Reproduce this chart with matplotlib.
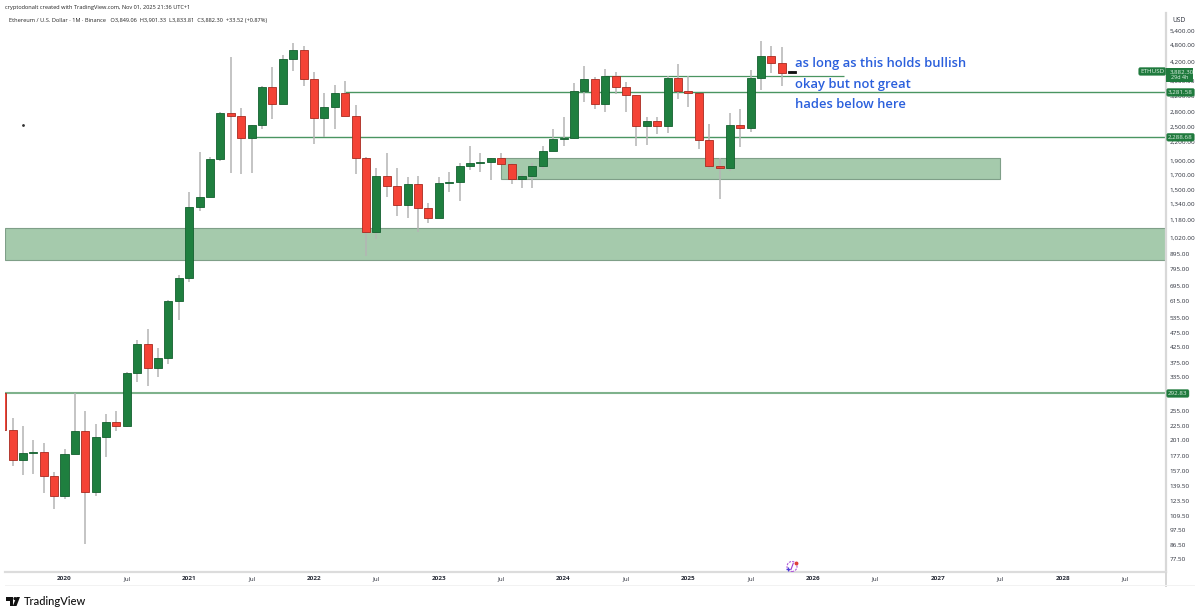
import matplotlib
matplotlib.use("Agg")
import matplotlib.pyplot as plt
from matplotlib.patches import Ellipse, Polygon, Rectangle
from matplotlib.transforms import blended_transform_factory
import numpy as np
import pandas as pd

W, H = 1200, 616

opens = [293,219,172,181,183,151,129,180,217,133,206,232,225,345,434,360,388,617,
         737,1313,1422,1924,2776,2710,2272,2527,3437,3000,4290,4611,
         3664,2678,2920,3270,2722,1935,1071,1680,1551,1331,1573,1296,
         1196,1584,1604,1819,1868,1874,1933,1851,1644,1671,1819,2047,
         2262,2283,3327,3643,3000,3745,3428,3222,2513,2600,2507,3680,
         3327,3270,2235,1815,1791,2527,2470,3680,4400,4150,3849.06]
highs = [293,241,226,202,197,156,187,293,254,229,249,254,349,450,490,423,621,759,
         1481,2040,1960,2805,4350,2889,2527,3455,4016,4430,4866,4762,
         3870,3270,3483,3596,2967,1960,1785,2023,1785,1662,1680,1354,
         1670,1735,1859,2136,2021,1937,2015,1868,1704,1859,2136,2441,
         2703,3542,4070,3725,3960,3870,3560,3222,2703,2703,3755,4110,
         3755,3270,2540,1945,2790,2865,3928,4945,4762,4735,3901.33]
lows = [219,164,152,153,132,116,126,180,87.5,129,176,216,224,320,310,334,371,529,
        718,1270,1422,1897,1725,1703,1718,2440,2652,2990,3900,3463,
        2168,2289,2447,2722,1703,885,1012,1422,1220,1196,1073,1154,
        1196,1470,1370,1762,1737,1626,1851,1575,1528,1519,1780,2047,
        2136,2253,3042,2865,2810,3240,2810,2136,2153,2351,2370,3107,
        2920,2082,1772,1400,1752,2125,2380,3346,3830,3455,3833.81]
closes = [219,172,181,183,151,129,180,217,133,206,232,225,345,434,360,388,617,737,
          1313,1422,1924,2776,2710,2272,2527,3437,3000,4290,4611,3664,
          2678,2920,3270,2722,1935,1071,1680,1551,1331,1573,1296,1196,
          1584,1604,1819,1868,1874,1933,1851,1644,1671,1819,2047,2262,
          2283,3327,3643,3000,3745,3428,3222,2513,2600,2507,3680,3327,
          3270,2235,1815,1791,2527,2470,3680,4400,4150,3849.06,3882.30]

price_ticks = [5400,4800,4200,3600,3200,2800,2500,2200,1900,1700,1500,1340,1180,1020,
               895,795,695,615,535,475,425,375,335,255,225,201,177,157,139.5,123.5,
               109.5,97.5,86.5,77.5]
time_labels = ["2020","Jul","2021","Jul","2022","Jul","2023","Jul","2024","Jul","2025",
               "Jul","2026","Jul","2027","Jul","2028","Jul"]

level_upper = 3744
level_mid = 3281.58
level_low = 2288.68
level_base = 292.83
zone_big = (853, 1102)
zone_small = (1644, 1934)

notes = ["as long as this holds bullish", "okay but not great", "hades below here"]
note_prices = [4122, 3483, 2967]

GREEN, RED = "#1f7f3f", "#f44336"
GREEN_E, RED_E = "#14602f", "#a82a20"
WICK = "#b4b4b4"
LINE = "#4a9561"
ZONE = "#a5caac"
ZONE_E = "#7f9f88"
TAG = "#1f7a3d"
TXT = "#2a2e39"
FONT = "Open Sans"
plt.rcParams["font.family"] = FONT

dates = pd.date_range("2019-07-01", periods=len(opens), freq="MS")
months = np.array([(d.year - 2020) * 12 + d.month - 1 for d in dates], dtype=float)
opens, highs, lows, closes = map(np.array, (opens, highs, lows, closes))

fig = plt.figure(figsize=(W / 100, H / 100), dpi=100, facecolor="white")
L, R, T, B = 5, 1166, 13, 572
ax = fig.add_axes([L / W, 1 - B / H, (R - L) / W, (B - T) / H])
ax.set_yscale("log")
ax.set_ylim(69.86, 6206)
ax.set_xlim((L - 64.5) / 10.397, (R - 64.5) / 10.397)
ax.minorticks_off()
ax.tick_params(which="both", length=0)

for s in ("top", "left"):
    ax.spines[s].set_visible(False)
ax.spines["bottom"].set_color("#dcdcdc")
ax.spines["bottom"].set_linewidth(1.6)
ax.spines["right"].set_color("#d8d8d8")
ax.spines["right"].set_linewidth(1.6)

# zones
ax.axhspan(zone_big[0], zone_big[1], facecolor=ZONE, edgecolor=ZONE_E, lw=0.8, zorder=1)
ax.add_patch(Rectangle((42, zone_small[0]), 48, zone_small[1] - zone_small[0],
                       facecolor=ZONE, edgecolor=ZONE_E, lw=0.8, zorder=1))

# levels
ax.hlines(level_base, ax.get_xlim()[0], ax.get_xlim()[1], color="#7fb28c", lw=1.5, zorder=1.5)
ax.hlines(level_low, 18, ax.get_xlim()[1], color=LINE, lw=1.0, zorder=1.5)
ax.hlines(level_mid, 27, ax.get_xlim()[1], color=LINE, lw=1.0, zorder=1.5)
ax.hlines(level_upper, 52, 75, color=LINE, lw=0.9, zorder=1.5)

# candles
up = closes >= opens
ax.vlines(months, lows, highs, color=WICK, lw=1.1, zorder=2)
ax.vlines(months[0], lows[0], highs[0], color=RED, lw=1.1, zorder=2)
bottoms = np.minimum(opens, closes)
heights = np.abs(closes - opens)
ax.bar(months[:-1], heights[:-1], bottom=bottoms[:-1], width=0.77,
       color=[GREEN if u else RED for u in up[:-1]],
       edgecolor=[GREEN_E if u else RED_E for u in up[:-1]], linewidth=0.6, zorder=3)
ax.bar(months[-1:], heights[-1:], bottom=bottoms[-1:], width=0.77,
       color="#111111", edgecolor="#111111", linewidth=0.6, zorder=3)

# axis labels
ax.yaxis.tick_right()
ax.set_yticks(price_ticks)
ax.set_yticklabels([f"{p:,.2f}" for p in price_ticks], fontsize=4.6, color=TXT)
ax.tick_params(axis="y", which="both", pad=2.8)
ax.set_xticks(np.arange(len(time_labels)) * 6)
ax.set_xticklabels(time_labels, fontsize=4.6, color=TXT)
for lab, txt in zip(ax.get_xticklabels(), time_labels):
    if txt != "Jul":
        lab.set_fontweight("bold")
ax.tick_params(axis="x", pad=3)
ax.yaxis.set_minor_locator(matplotlib.ticker.NullLocator())
ax.xaxis.set_minor_locator(matplotlib.ticker.NullLocator())

# annotations
for note, p in zip(notes, note_prices):
    ax.text(70.3, p, note, color="#2a5fdc", fontsize=9.4, va="center", ha="left",
            fontweight="semibold", zorder=6)

# pixel helpers
def fx(x):
    return x / W
def fy(y):
    return 1 - y / H

fig.add_artist(Rectangle((fx(1165.4), fy(587)), 1.6 / W, 15 / H, transform=fig.transFigure,
                         color="#d8d8d8", lw=0))
fig.add_artist(Rectangle((fx(4.5), fy(587)), 0.8 / W, 574 / H, transform=fig.transFigure,
                         color="#efefef", lw=0))
fig.add_artist(Rectangle((fx(5), fy(586)), 1190 / W, 0.7 / H, transform=fig.transFigure,
                         color="#f2f2f2", lw=0))

fig.text(fx(5), fy(7.5), "cryptodonalt created with TradingView.com, Nov 01, 2025 21:36 UTC+1",
         fontsize=4.05, color="#222222", va="center")
fig.text(fx(9), fy(20.5),
         "Ethereum / U.S. Dollar · 1M · Binance   O3,849.06  H3,901.33  L3,833.81  C3,882.30  +33.52 (+0.87%)",
         fontsize=4.05, color="#222222", va="center")
fig.text(fx(1172), fy(20.5), "USD", fontsize=4.8, color=TXT, va="center", zorder=8,
         bbox=dict(fc="white", ec="none", pad=1.6))

# price tags
trans = blended_transform_factory(ax.transAxes, ax.transData)
def tag(text, price, x0=1.0008, fs=4.5, ha="left"):
    ax.text(x0, price, text, transform=trans, fontsize=fs, color="#dff0e4", va="center", ha=ha,
            clip_on=False, zorder=9,
            bbox=dict(boxstyle="round,pad=0.22,rounding_size=0.25", fc=TAG, ec=TAG, lw=0.3))

tag("ETHUSD", closes[-1], x0=0.9985, ha="right")
fig.add_artist(Rectangle((fx(1166), fy(81.5)), 27 / W, 13.5 / H, transform=fig.transFigure,
                         color=TAG, lw=0, zorder=9))
fig.text(fx(1170), fy(71.8), "3,882.30", fontsize=4.4, color="#dff0e4", va="center", zorder=10)
fig.text(fx(1171), fy(77.5), "29d 4h", fontsize=4.0, color="#dff0e4", va="center", zorder=10)
tag("3,281.58", level_mid, x0=1.0018)
tag("2,288.68", level_low, x0=1.0018)
tag("292.83", level_base, x0=1.0018)

# small marker near the left and the purple event icon
fig.add_artist(plt.Line2D([fx(22.5)], [fy(124.5)], marker="o", ms=1.0, color="#333333",
                          transform=fig.transFigure))
fig.add_artist(Ellipse((fx(792), fy(566.5)), 10 / W, 10 / H, transform=fig.transFigure,
                       fc="white", ec="#b05ad8", lw=0.8, ls=(0, (2, 1)), zorder=7))
fig.add_artist(plt.Line2D([fx(793.2), fx(791)], [fy(563.5), fy(569.5)], color="#a040d0", lw=0.8,
                          transform=fig.transFigure, zorder=8))
fig.add_artist(plt.Line2D([fx(796)], [fy(563)], marker="o", ms=1.8, color="#e0403a",
                          transform=fig.transFigure, zorder=8))
fig.add_artist(plt.Line2D([fx(787.5)], [fy(569)], marker="+", ms=3, mew=0.9, color="#4a3fd8",
                          transform=fig.transFigure, zorder=8))

# TradingView logo
for pts in ([(6, 597), (13, 597), (13, 606), (10, 606), (10, 600.5), (6, 600.5)],
            [(16.5, 597), (20, 597), (16.5, 606), (12.8, 606)]):
    fig.add_artist(Polygon([(fx(x), fy(y)) for x, y in pts], transform=fig.transFigure,
                           fc="#111111", ec="none"))
fig.add_artist(Ellipse((fx(15), fy(598.6)), 3.2 / W, 3.2 / H, transform=fig.transFigure,
                       fc="#111111", ec="none"))
fig.text(fx(24), fy(601.5), "TradingView", fontsize=8.0, color="#111111", va="center",
         family="Lato", fontweight="medium")

fig.savefig("out.png", dpi=100)
